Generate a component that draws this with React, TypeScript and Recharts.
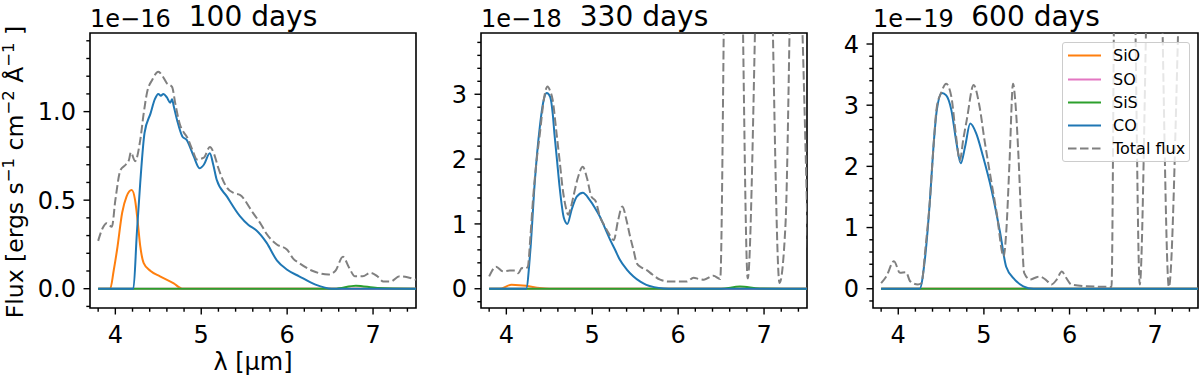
import React from "react";
import { LineChart, Line, XAxis, YAxis, ReferenceArea, Legend } from "recharts";

const FONT = "DejaVu Sans, Verdana, sans-serif";

// wavelength ticks (µm), minor every 0.2
const X_TICKS = [3.8, 4.0, 4.2, 4.4, 4.6, 4.8, 5.0, 5.2, 5.4, 5.6, 5.8, 6.0, 6.2, 6.4, 6.6, 6.8, 7.0, 7.2, 7.4];
const X_MAJOR = [4, 5, 6, 7];

const Y_TICKS_100 = [-0.1, 0, 0.1, 0.2, 0.3, 0.4, 0.5, 0.6, 0.7, 0.8, 0.9, 1.0, 1.1, 1.2, 1.3, 1.4];
const Y_MAJOR_100 = [0, 0.5, 1.0];
const Y_TICKS_330 = [-0.2, 0, 0.2, 0.4, 0.6, 0.8, 1, 1.2, 1.4, 1.6, 1.8, 2, 2.2, 2.4, 2.6, 2.8, 3, 3.2, 3.4, 3.6, 3.8];
const Y_MAJOR_330 = [0, 1, 2, 3];
const Y_TICKS_600 = [-0.2, 0, 0.2, 0.4, 0.6, 0.8, 1, 1.2, 1.4, 1.6, 1.8, 2, 2.2, 2.4, 2.6, 2.8, 3, 3.2, 3.4, 3.6, 3.8, 4];
const Y_MAJOR_600 = [0, 1, 2, 3, 4];

// ---- 100 days (x1e-16)
const D100_SIO_L = [3.8, 3.94, 3.98, 4.02, 4.08, 4.13, 4.19, 4.23, 4.26, 4.29, 4.33, 4.41, 4.52, 4.68, 4.78, 7.5];
const D100_SIO_F = [0, 0, 0.1, 0.22, 0.43, 0.52, 0.557, 0.5, 0.38, 0.24, 0.145, 0.1, 0.07, 0.03, 0, 0];
const D100_SO_L = [3.8, 7.5];
const D100_SO_F = [0, 0];
const D100_SIS_L = [3.8, 6.55, 6.8, 7.05, 7.5];
const D100_SIS_F = [0, 0, 0.017, 0.004, 0];
const D100_CO_L = [3.8, 4.21, 4.25, 4.29, 4.34, 4.41, 4.46, 4.5, 4.53, 4.56, 4.6, 4.64, 4.66, 4.68, 4.72, 4.78, 4.83, 4.91, 4.98, 5.03, 5.1, 5.14, 5.18, 5.3, 5.45, 5.55, 5.64, 5.76, 5.88, 6.0, 6.14, 6.33, 6.52, 7.5];
const D100_CO_F = [0, 0, 0.31, 0.6, 0.88, 0.99, 1.07, 1.1, 1.09, 1.1, 1.08, 1.05, 1.07, 1.03, 0.95, 0.86, 0.84, 0.75, 0.68, 0.7, 0.765, 0.7, 0.615, 0.52, 0.41, 0.36, 0.33, 0.26, 0.16, 0.107, 0.07, 0.023, 0, 0];
const D100_TOT_L = [3.8, 3.85, 3.9, 3.96, 4.0, 4.06, 4.12, 4.16, 4.18, 4.23, 4.29, 4.33, 4.37, 4.43, 4.5, 4.55, 4.6, 4.66, 4.7, 4.75, 4.8, 4.83, 4.9, 4.95, 5.03, 5.1, 5.15, 5.2, 5.3, 5.38, 5.45, 5.6, 5.7, 5.76, 5.88, 6.0, 6.07, 6.14, 6.3, 6.48, 6.56, 6.65, 6.72, 6.79, 6.88, 6.97, 7.05, 7.12, 7.2, 7.31, 7.4, 7.5];
const D100_TOT_F = [0.27, 0.34, 0.37, 0.35, 0.5, 0.67, 0.7, 0.73, 0.77, 0.72, 0.84, 0.99, 1.11, 1.18, 1.225, 1.2, 1.16, 1.14, 1.04, 0.93, 0.88, 0.86, 0.78, 0.73, 0.74, 0.8, 0.76, 0.68, 0.57, 0.54, 0.53, 0.43, 0.36, 0.31, 0.25, 0.22, 0.17, 0.145, 0.1, 0.08, 0.1, 0.18, 0.12, 0.07, 0.07, 0.09, 0.07, 0.04, 0.04, 0.07, 0.065, 0.05];

// ---- 330 days (x1e-18)
const D330_SIO_L = [3.8, 3.92, 4.06, 4.15, 4.23, 4.39, 4.5, 7.5];
const D330_SIO_F = [0, 0, 0.06, 0.055, 0.045, 0.01, 0, 0];
const D330_SO_L = [3.8, 7.5];
const D330_SO_F = [0, 0];
const D330_SIS_L = [3.8, 6.5, 6.72, 6.95, 7.5];
const D330_SIS_F = [0, 0, 0.035, 0.005, 0];
const D330_CO_L = [3.8, 4.23, 4.28, 4.33, 4.39, 4.43, 4.47, 4.51, 4.54, 4.56, 4.59, 4.62, 4.67, 4.71, 4.76, 4.82, 4.89, 4.97, 5.03, 5.09, 5.15, 5.21, 5.27, 5.32, 5.4, 5.48, 5.56, 5.63, 5.72, 5.83, 5.95, 7.5];
const D330_CO_F = [0, 0, 0.6, 1.63, 2.5, 2.88, 3.02, 2.96, 2.7, 2.39, 1.98, 1.57, 1.09, 1.0, 1.22, 1.42, 1.48, 1.37, 1.25, 1.11, 0.93, 0.75, 0.59, 0.45, 0.3, 0.19, 0.11, 0.06, 0.025, 0.005, 0, 0];
const D330_TOT_L = [3.8, 3.88, 3.96, 4.04, 4.1, 4.14, 4.18, 4.22, 4.25, 4.28, 4.31, 4.35, 4.39, 4.44, 4.48, 4.51, 4.54, 4.58, 4.62, 4.66, 4.69, 4.72, 4.75, 4.78, 4.83, 4.89, 4.94, 4.99, 5.04, 5.09, 5.14, 5.19, 5.25, 5.3, 5.35, 5.4, 5.44, 5.48, 5.52, 5.57, 5.63, 5.7, 5.79, 5.9, 5.98, 6.1, 6.18, 6.24, 6.3, 6.41, 6.49, 6.55, 6.64, 6.73, 6.81, 6.93, 7.0, 7.07, 7.18, 7.25, 7.33, 7.35, 7.52];
const D330_TOT_F = [0.19, 0.34, 0.27, 0.28, 0.28, 0.24, 0.32, 0.31, 0.34, 0.8, 1.37, 1.95, 2.39, 2.95, 3.12, 3.05, 2.91, 2.45, 1.98, 1.5, 1.27, 1.14, 1.25, 1.42, 1.7, 1.88, 1.7, 1.42, 1.35, 1.11, 0.98, 0.86, 0.75, 1.05, 1.27, 1.05, 0.81, 0.6, 0.39, 0.33, 0.29, 0.22, 0.14, 0.11, 0.11, 0.11, 0.17, 0.15, 0.14, 0.2, 0.15, 6, 9, 6, 0.16, 6, 9, 6, 0.09, 1.0, 6, 6.5, 0.1];

// ---- 600 days (x1e-19)
const D600_SIO_L = [3.8, 7.5];
const D600_SIO_F = [0, 0];
const D600_SO_L = [3.8, 7.5];
const D600_SO_F = [0, 0];
const D600_SIS_L = [3.8, 7.5];
const D600_SIS_F = [0, 0];
const D600_CO_L = [3.8, 4.25, 4.31, 4.37, 4.41, 4.45, 4.51, 4.56, 4.62, 4.68, 4.73, 4.78, 4.84, 4.91, 4.99, 5.09, 5.19, 5.26, 5.36, 5.46, 5.58, 7.5];
const D600_CO_F = [0, 0, 0.47, 1.45, 2.3, 2.92, 3.2, 3.16, 2.92, 2.38, 2.05, 2.32, 2.7, 2.54, 2.16, 1.61, 0.91, 0.36, 0.15, 0.04, 0, 0];
const D600_TOT_L = [3.8, 3.86, 3.95, 4.02, 4.09, 4.14, 4.23, 4.27, 4.32, 4.37, 4.41, 4.45, 4.5, 4.56, 4.62, 4.67, 4.72, 4.76, 4.8, 4.88, 4.95, 5.01, 5.07, 5.15, 5.23, 5.26, 5.3, 5.34, 5.37, 5.4, 5.44, 5.47, 5.54, 5.6, 5.65, 5.72, 5.79, 5.85, 5.91, 5.96, 6.02, 6.2, 6.49, 6.53, 6.64, 6.75, 6.82, 6.92, 7.0, 7.06, 7.16, 7.31, 7.5];
const D600_TOT_F = [0.09, 0.2, 0.45, 0.26, 0.27, 0.12, 0.07, 0.09, 0.7, 1.45, 2.3, 2.97, 3.2, 3.35, 3.14, 2.55, 2.1, 2.45, 2.76, 3.33, 2.97, 2.4, 1.89, 1.23, 0.53, 0.91, 2.1, 3.35, 3.0, 2.27, 1.0, 0.26, 0.15, 0.18, 0.2, 0.15, 0.07, 0.15, 0.28, 0.18, 0.07, 0.04, 0.03, 6, 9, 6, 0.07, 6, 9, 6, 0.03, 6, 9];

const SERIES = [
  { name: "SiO", color: "#ff7f0e", dash: undefined as string | undefined },
  { name: "SO", color: "#e377c2", dash: undefined },
  { name: "SiS", color: "#2ca02c", dash: undefined },
  { name: "CO", color: "#1f77b4", dash: undefined },
  { name: "Total flux", color: "#808080", dash: "8.5 3.5" },
];

const pts = (l: number[], f: number[]) => l.map((x, i) => ({ l: x, f: f[i] }));

const X_DOMAIN: [number, number] = [3.705, 7.5];

const isMajor = (v: number, majors: number[]) => majors.some((m) => Math.abs(m - v) < 1e-6);

function XTick(props: any) {
  const { x, y, payload } = props;
  const major = isMajor(payload.value, X_MAJOR);
  return (
    <g>
      <line x1={x} x2={x} y1={y} y2={y + (major ? 6.5 : 3.7)} stroke="#000" strokeWidth={1.4} />
      {major && (
        <text x={x} y={y + 34.5} textAnchor="middle" fontSize={24} fontFamily={FONT} fill="#000">
          {payload.value}
        </text>
      )}
    </g>
  );
}

function YTick(props: any) {
  const { x, y, payload, majors, digits } = props;
  const major = isMajor(payload.value, majors);
  return (
    <g>
      <line x1={x} x2={x - (major ? 6.5 : 3.7)} y1={y} y2={y} stroke="#000" strokeWidth={1.4} />
      {major && (
        <text x={x - 14} y={y + 8.7} textAnchor="end" fontSize={24} fontFamily={FONT} fill="#000">
          {payload.value.toFixed(digits)}
        </text>
      )}
    </g>
  );
}

function LegendBox() {
  return (
    <div
      style={{
        position: "relative",
        width: 128,
        height: 120,
        boxSizing: "border-box",
        border: "1px solid #cccccc",
        borderRadius: 3,
        background: "rgba(255,255,255,0.8)",
        fontFamily: FONT,
        fontSize: 16,
      }}
    >
      {SERIES.map((s, i) => (
        <div key={s.name} style={{ position: "absolute", left: 0, top: 13 + i * 23.2 - 11.6, height: 23.2, width: 126 }}>
          <svg width={40} height={23.2} style={{ position: "absolute", left: 4, top: 0 }}>
            <line x1={1} x2={34} y1={11.6} y2={11.6} stroke={s.color} strokeWidth={2} strokeDasharray={s.dash} />
          </svg>
          <span style={{ position: "absolute", left: 50, top: 1, lineHeight: "21px", color: "#000", whiteSpace: "nowrap" }}>
            {s.name}
          </span>
        </div>
      ))}
    </div>
  );
}

type PanelProps = {
  left: number;
  width: number;
  yWidth: number;
  right: number;
  yDomain: [number, number];
  yTicks: number[];
  yMajor: number[];
  digits: number;
  title: string;
  offsetText: string;
  lines: { l: number; f: number }[][];
  legend?: boolean;
  labels?: boolean;
};

function Panel(p: PanelProps) {
  const plotLeft = p.yWidth;
  const plotRight = p.width - p.right;
  const cx = (plotLeft + plotRight) / 2;
  return (
    <div style={{ position: "absolute", left: p.left, top: 0 }}>
      <LineChart width={p.width} height={377} margin={{ top: 33, right: p.right, bottom: 0, left: 0 }}>
        <XAxis
          type="number"
          dataKey="l"
          domain={X_DOMAIN}
          allowDataOverflow
          ticks={X_TICKS}
          interval={0}
          height={69}
          axisLine={false}
          tickLine={false}
          tickSize={0}
          tickMargin={0}
          tick={(t: any) => <XTick {...t} />}
        />
        <YAxis
          type="number"
          domain={p.yDomain}
          allowDataOverflow
          ticks={p.yTicks}
          interval={0}
          width={p.yWidth}
          axisLine={false}
          tickLine={false}
          tickSize={0}
          tickMargin={0}
          tick={(t: any) => <YTick {...t} majors={p.yMajor} digits={p.digits} />}
        />
        <ReferenceArea
          x1={X_DOMAIN[0]}
          x2={X_DOMAIN[1]}
          y1={p.yDomain[0]}
          y2={p.yDomain[1]}
          fill="none"
          stroke="#000"
          strokeWidth={1.6}
          ifOverflow="visible"
        />
        {SERIES.map((s, i) => (
          <Line
            key={s.name}
            name={s.name}
            data={p.lines[i]}
            dataKey="f"
            type="monotone"
            stroke={s.color}
            strokeWidth={2}
            strokeDasharray={s.dash}
            dot={false}
            activeDot={false}
            isAnimationActive={false}
          />
        ))}
        {p.legend && (
          <Legend
            layout="vertical"
            align="center"
            verticalAlign="middle"
            wrapperStyle={{ left: 262, top: 42, width: 128, height: 120 }}
            content={() => <LegendBox />}
          />
        )}
        <text x={cx} y={26} textAnchor="middle" fontSize={28} fontFamily={FONT} fill="#000">
          {p.title}
        </text>
        <text x={plotLeft} y={27} textAnchor="start" fontSize={24} fontFamily={FONT} fill="#000">
          {p.offsetText}
        </text>
        {p.labels && (
          <text x={cx} y={370} textAnchor="middle" fontSize={24} fontFamily={FONT} fill="#000">
            λ [μm]
          </text>
        )}
        {p.labels && (
          <text x={22.5} y={172} transform="rotate(-90 22.5 172)" textAnchor="middle" fontSize={23.5} fontFamily={FONT} fill="#000">
            Flux [ergs s
            <tspan dy={-8.5} fontSize={16.5}>−1</tspan>
            <tspan dy={8.5}> cm</tspan>
            <tspan dy={-8.5} fontSize={16.5}>−2</tspan>
            <tspan dy={8.5}> Å</tspan>
            <tspan dy={-8.5} fontSize={16.5}>−1</tspan>
            <tspan dy={8.5}> ]</tspan>
          </text>
        )}
      </LineChart>
    </div>
  );
}

export default function App() {
  return (
    <div style={{ position: "relative", width: 1200, height: 377, background: "#fff", overflow: "hidden" }}>
      <style>{"body{margin:0}"}</style>
      <Panel
        left={0}
        width={430}
        yWidth={90}
        right={14}
        yDomain={[-0.109, 1.444]}
        yTicks={Y_TICKS_100}
        yMajor={Y_MAJOR_100}
        digits={1}
        title="100 days"
        offsetText="1e−16"
        labels
        lines={[
          pts(D100_SIO_L, D100_SIO_F),
          pts(D100_SO_L, D100_SO_F),
          pts(D100_SIS_L, D100_SIS_F),
          pts(D100_CO_L, D100_CO_F),
          pts(D100_TOT_L, D100_TOT_F),
        ]}
      />
      <Panel
        left={400}
        width={420}
        yWidth={81}
        right={13}
        yDomain={[-0.297, 3.945]}
        yTicks={Y_TICKS_330}
        yMajor={Y_MAJOR_330}
        digits={0}
        title="330 days"
        offsetText="1e−18"
        lines={[
          pts(D330_SIO_L, D330_SIO_F),
          pts(D330_SO_L, D330_SO_F),
          pts(D330_SIS_L, D330_SIS_F),
          pts(D330_CO_L, D330_CO_F),
          pts(D330_TOT_L, D330_TOT_F),
        ]}
      />
      <Panel
        left={800}
        width={400}
        yWidth={73}
        right={2}
        yDomain={[-0.315, 4.18]}
        yTicks={Y_TICKS_600}
        yMajor={Y_MAJOR_600}
        digits={0}
        title="600 days"
        offsetText="1e−19"
        legend
        lines={[
          pts(D600_SIO_L, D600_SIO_F),
          pts(D600_SO_L, D600_SO_F),
          pts(D600_SIS_L, D600_SIS_F),
          pts(D600_CO_L, D600_CO_F),
          pts(D600_TOT_L, D600_TOT_F),
        ]}
      />
    </div>
  );
}
